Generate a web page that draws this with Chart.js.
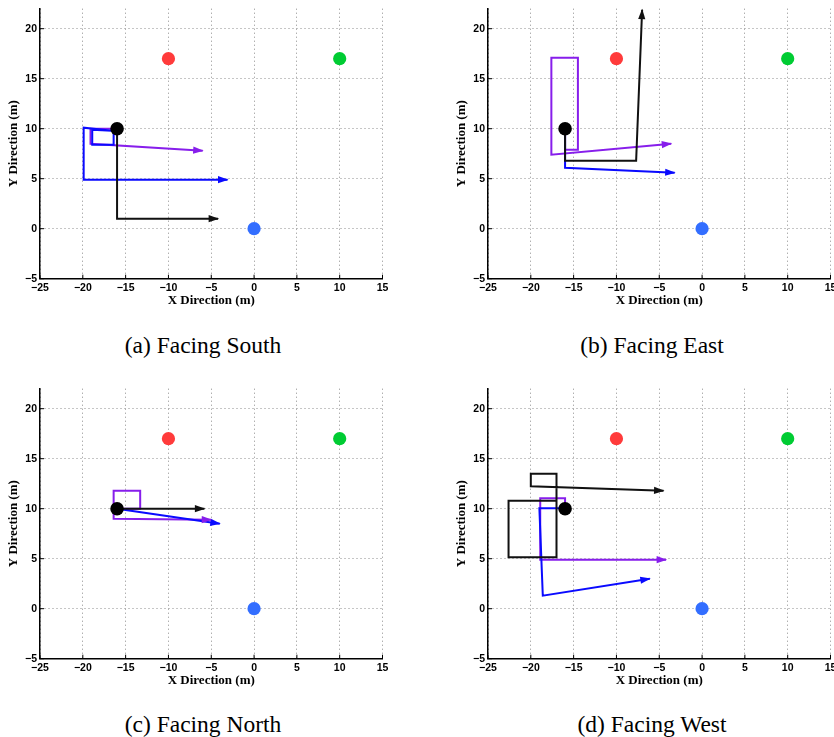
<!DOCTYPE html>
<html lang="en">

<head>
    <meta charset="UTF-8">
    <title>Facing South / East / North / West</title>
    <style>
        html, body { margin: 0; padding: 0; background: #fff; width: 834px; height: 737px; overflow: hidden; }
        .plot { position: absolute; width: 420px; height: 310px; }
        .cap { position: absolute; width: 400px; text-align: center; font-family: "Liberation Serif", serif; font-size: 23.5px; line-height: 23px; color: #000; }
    </style>
</head>

<body>
    <div class="plot" style="left: 0px; top: 0px;"><canvas id="chartA" width="420" height="310"></canvas></div>
    <div class="plot" style="left: 448px; top: 0px;"><canvas id="chartB" width="420" height="310"></canvas></div>
    <div class="plot" style="left: 0px; top: 380px;"><canvas id="chartC" width="420" height="310"></canvas></div>
    <div class="plot" style="left: 448px; top: 380px;"><canvas id="chartD" width="420" height="310"></canvas></div>

    <div class="cap" style="left: 3px; top: 334px;">(a) Facing South</div>
    <div class="cap" style="left: 452px; top: 334px;">(b) Facing East</div>
    <div class="cap" style="left: 3px; top: 713px;">(c) Facing North</div>
    <div class="cap" style="left: 452px; top: 713px;">(d) Facing West</div>

    <script src="https://cdn.jsdelivr.net/npm/chart.js"></script>
    <script>
        // axes
        const xTicks = [-25, -20, -15, -10, -5, 0, 5, 10, 15];
        const yTicks = [-5, 0, 5, 10, 15, 20];
        const xMin = -25, xMax = 15, yMin = -5, yMax = 22;

        // landmarks (red, green, blue) and robot start
        const landX = [-10, 10, 0];
        const landY = [17, 17, 0];
        const robotX = [-16];
        const robotY = [10];

        // (a) facing south
        const blackAx = [-16, -16, -4.2];
        const blackAy = [10, 1, 1];
        const blueAx = [-16.4, -16.4, -18.9, -18.9, -16.6, -19.9, -19.9, -3.1];
        const blueAy = [9.8, 8.4, 8.4, 9.9, 9.8, 10.1, 4.9, 4.9];
        const purpleAx = [-16, -19.1, -19.1, -6.0];
        const purpleAy = [10, 10, 8.5, 7.8];

        // (b) facing east
        const blackBx = [-16, -16, -7.7, -7.0];
        const blackBy = [10, 6.8, 6.8, 21.9];
        const blueBx = [-16, -16, -3.2];
        const blueBy = [10, 6.1, 5.6];
        const purpleBx = [-16, -16, -14.5, -14.5, -17.6, -17.6, -3.6];
        const purpleBy = [10, 7.9, 7.9, 17.1, 17.1, 7.4, 8.5];

        // (c) facing north
        const blackCx = [-16, -5.8];
        const blackCy = [10, 10];
        const blueCx = [-16, -4.0];
        const blueCy = [10, 8.5];
        const purpleCx = [-16, -13.3, -13.3, -16.4, -16.4, -5.0];
        const purpleCy = [10, 10, 11.8, 11.8, 9.0, 8.9];

        // (d) facing west
        const blackDx = [-17.0, -22.6, -22.6, -17.0, -17.0, -20.0, -20.0, -4.5];
        const blackDy = [10.8, 10.8, 5.15, 5.15, 13.5, 13.5, 12.25, 11.8];
        const blueDx = [-16, -19.0, -18.6, -6.1];
        const blueDy = [10.05, 10.05, 1.3, 3.0];
        const purpleDx = [-16, -16, -18.9, -18.9, -4.2];
        const purpleDy = [10, 11.05, 11.05, 4.9, 4.9];

        const C_BLACK = "#111";
        const C_BLUE = "rgb(10,10,255)";
        const C_PURPLE = "rgb(135,30,235)";
        const landColors = ["rgb(255,59,59)", "rgb(0,204,51)", "rgb(51,110,255)"];

        function pts(xs, ys) {
            return xs.map((v, i) => ({ x: v, y: ys[i] }));
        }

        function path(xs, ys, color) {
            return {
                type: "line",
                data: pts(xs, ys),
                borderColor: color,
                borderWidth: 2,
                pointRadius: 0,
                tension: 0,
                fill: false,
                clip: false,
                arrow: true
            };
        }

        // filled arrow head at the end of each path
        const arrowHeads = {
            id: "arrowHeads",
            afterDatasetsDraw(chart) {
                const ctx = chart.ctx;
                chart.data.datasets.forEach((ds, i) => {
                    if (!ds.arrow) return;
                    const p = chart.getDatasetMeta(i).data;
                    const a = p[p.length - 2], b = p[p.length - 1];
                    const ang = Math.atan2(b.y - a.y, b.x - a.x);
                    ctx.save();
                    ctx.translate(b.x, b.y);
                    ctx.rotate(ang);
                    ctx.beginPath();
                    ctx.moveTo(1, 0);
                    ctx.lineTo(-9.5, -3.6);
                    ctx.lineTo(-9.5, 3.6);
                    ctx.closePath();
                    ctx.fillStyle = ds.borderColor;
                    ctx.fill();
                    ctx.restore();
                });
            }
        };

        // small tick marks pointing into the plot
        const inwardTicks = {
            id: "inwardTicks",
            afterDraw(chart) {
                const { ctx, chartArea, scales } = chart;
                ctx.save();
                ctx.strokeStyle = "#000";
                ctx.lineWidth = 1;
                ctx.beginPath();
                xTicks.forEach(v => {
                    const px = scales.x.getPixelForValue(v);
                    ctx.moveTo(px, chartArea.bottom);
                    ctx.lineTo(px, chartArea.bottom - 4);
                });
                yTicks.forEach(v => {
                    const py = scales.y.getPixelForValue(v);
                    ctx.moveTo(chartArea.left, py);
                    ctx.lineTo(chartArea.left + 4, py);
                });
                ctx.stroke();
                ctx.restore();
            }
        };

        const tickFont = { family: "'Liberation Sans', Arial, sans-serif", size: 10.5, weight: "bold" };
        const titleFont = { family: "'Liberation Serif', 'Times New Roman', serif", size: 13, weight: "bold" };

        function makeChart(id, black, blue, purple) {
            new Chart(document.getElementById(id), {
                type: "scatter",
                data: {
                    datasets: [
                        {
                            data: pts(robotX, robotY),
                            pointRadius: 6.8,
                            pointBackgroundColor: "#000",
                            pointBorderWidth: 0
                        },
                        {
                            data: pts(landX, landY),
                            pointRadius: 6.6,
                            pointBackgroundColor: landColors,
                            pointBorderWidth: 0
                        },
                        black,
                        blue,
                        purple
                    ]
                },
                options: {
                    responsive: false,
                    animation: false,
                    layout: { padding: { left: 0, top: 8.7, right: 37.5, bottom: 0 } },
                    plugins: { legend: { display: false }, tooltip: { enabled: false } },
                    scales: {
                        x: {
                            type: "linear",
                            min: xMin,
                            max: xMax,
                            afterBuildTicks: axis => { axis.ticks = xTicks.map(v => ({ value: v })); },
                            afterFit: axis => { axis.height = 31.3; axis.paddingLeft = 0; axis.paddingRight = 0; },
                            ticks: {
                                font: tickFont,
                                color: "#000",
                                padding: 3,
                                maxRotation: 0,
                                autoSkip: false,
                                callback: v => String(v).replace("-", "\u2212")
                            },
                            grid: { color: "#8c8c8c", lineWidth: 1, drawTicks: false },
                            border: { display: true, color: "#000", width: 1.5, dash: [1, 3] },
                            title: { display: true, text: "X Direction (m)", font: titleFont, color: "#000", padding: { top: 0, bottom: 1.5 } }
                        },
                        y: {
                            type: "linear",
                            min: yMin,
                            max: yMax,
                            afterBuildTicks: axis => { axis.ticks = yTicks.map(v => ({ value: v })); },
                            afterFit: axis => { axis.width = 40; axis.paddingTop = 0; axis.paddingBottom = 0; },
                            ticks: {
                                font: tickFont,
                                color: "#000",
                                padding: 3,
                                autoSkip: false,
                                callback: v => String(v).replace("-", "\u2212")
                            },
                            grid: { color: "#8c8c8c", lineWidth: 1, drawTicks: false },
                            border: { display: true, color: "#000", width: 1.5, dash: [1, 3] },
                            title: { display: true, text: "Y Direction (m)", font: titleFont, color: "#000", padding: { top: 5.5, bottom: 0 } }
                        }
                    }
                },
                plugins: [arrowHeads, inwardTicks]
            });
        }

        makeChart("chartA", path(blackAx, blackAy, C_BLACK), path(blueAx, blueAy, C_BLUE), path(purpleAx, purpleAy, C_PURPLE));
        makeChart("chartB", path(blackBx, blackBy, C_BLACK), path(blueBx, blueBy, C_BLUE), path(purpleBx, purpleBy, C_PURPLE));
        makeChart("chartC", path(blackCx, blackCy, C_BLACK), path(blueCx, blueCy, C_BLUE), path(purpleCx, purpleCy, C_PURPLE));
        makeChart("chartD", path(blackDx, blackDy, C_BLACK), path(blueDx, blueDy, C_BLUE), path(purpleDx, purpleDy, C_PURPLE));
    </script>

</body>

</html>
